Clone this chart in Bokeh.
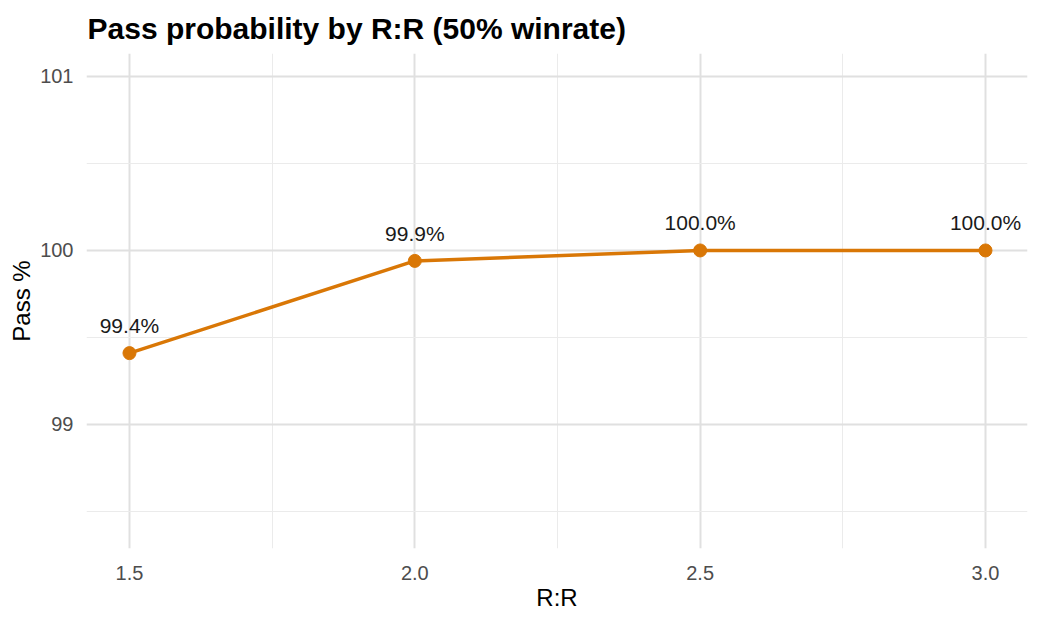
from bokeh.plotting import figure
from bokeh.models import Range1d, FixedTicker, ColumnDataSource, LabelSet
from bokeh.core.properties import value
from bokeh.embed import file_html
from bokeh.resources import INLINE

# Data
rr = [1.5, 2.0, 2.5, 3.0]
pass_pct = [99.41, 99.94, 100.0, 100.0]
labels = ["99.4%", "99.9%", "100.0%", "100.0%"]
x_ticks = [1.5, 2.0, 2.5, 3.0]
x_minor = [1.75, 2.25, 2.75]
y_ticks = [99, 100, 101]
y_minor = [98.5, 99.5, 100.5]

FONT = "Liberation Sans"
ORANGE = "#D97706"

src = ColumnDataSource(dict(x=rr, y=pass_pct, lab=labels))

p = figure(width=1040, height=624, output_backend="svg", toolbar_location=None,
           x_range=Range1d(1.4247, 3.0736), y_range=Range1d(98.287, 101.132),
           min_border_left=86, min_border_right=13, min_border_top=53, min_border_bottom=76)

p.title.text = "Pass probability by R:R (50% winrate)"
p.title.text_font = FONT
p.title.text_font_size = "30px"
p.title.text_font_style = "bold"
p.title.text_color = "#000000"
p.title.align = "left"
p.title.offset = 1
p.title.standoff = 18

p.outline_line_color = None
p.background_fill_color = "white"
p.border_fill_color = "white"

p.xaxis.ticker = FixedTicker(ticks=x_ticks, minor_ticks=x_minor)
p.yaxis.ticker = FixedTicker(ticks=y_ticks, minor_ticks=y_minor)
p.xaxis.major_label_overrides = {1.5: "1.5", 2.0: "2.0", 2.5: "2.5", 3.0: "3.0"}

for ax in (p.xaxis, p.yaxis):
    ax.axis_line_color = None
    ax.major_tick_line_color = None
    ax.minor_tick_line_color = None
    ax.major_label_text_font = FONT
    ax.major_label_text_font_size = "20px"
    ax.major_label_text_color = "#4D4D4D"
    ax.axis_label_text_font = FONT
    ax.axis_label_text_font_size = "24px"
    ax.axis_label_text_font_style = "normal"
    ax.axis_label_text_color = "#000000"

p.xaxis.axis_label = "R:R"
p.yaxis.axis_label = "Pass %"
p.xaxis.major_label_standoff = 11
p.xaxis.axis_label_standoff = 1
p.yaxis.major_label_standoff = 7
p.yaxis.axis_label_standoff = 2

for g in (p.xgrid, p.ygrid):
    g.grid_line_color = "#E0E0E0"
    g.grid_line_width = 2
    g.minor_grid_line_color = "#EBEBEB"
    g.minor_grid_line_width = 1

p.line("x", "y", source=src, line_color=ORANGE, line_width=3.5)
p.scatter("x", "y", source=src, size=13, fill_color=ORANGE, line_color=ORANGE)

lbl = LabelSet(x="x", y="y", text="lab", source=src, text_align="center",
               text_baseline="alphabetic", y_offset=20, text_font=value(FONT),
               text_font_size="21px", text_color="#1A1A1A")
p.add_layout(lbl)

open("out.html", "w").write(file_html(p, INLINE))
